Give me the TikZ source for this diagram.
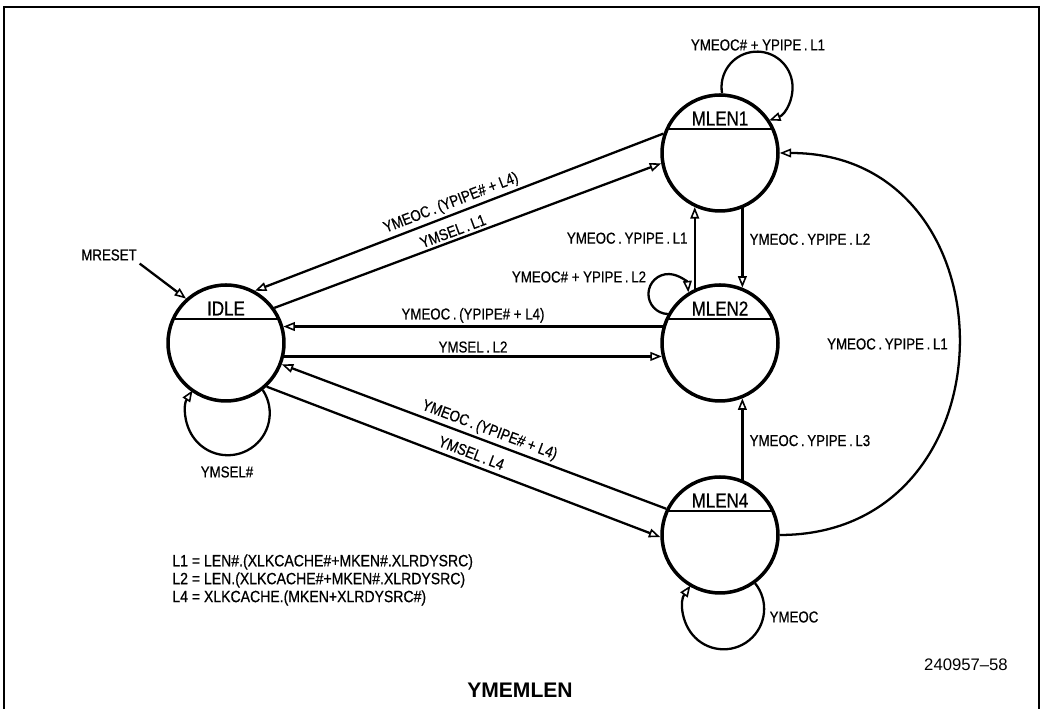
\documentclass[tikz,border=0pt]{standalone}
\usepackage{fontspec}
\setmainfont{Liberation Sans}
\newfontfamily\narrowfont[FakeStretch=0.84, FakeBold=0.6]{Liberation Sans}
\newfontfamily\legendfont[FakeStretch=0.86, FakeBold=0.6]{Liberation Sans}
\usetikzlibrary{arrows.meta, calc}
\tikzset{
    statenode/.style={circle, draw, line width=2pt, minimum size=2.32cm, inner sep=0pt,
        path picture={\draw[line width=1pt] ([yshift=0.48cm]path picture bounding box.west) -- ([yshift=0.48cm]path picture bounding box.east);},
        label={[statename]center:#1}},
    statename/.style={font=\narrowfont\fontsize{11.5}{13}\selectfont, yshift=0.69cm, inner sep=0pt},
    trans/.style={-{Triangle[open, length=6.5pt, width=5pt, line width=0.9pt]}, line width=1.3pt},
    lbl/.style={font=\narrowfont\fontsize{9}{10.2}\selectfont, inner sep=1.5pt},
    legendtext/.style={font=\legendfont\fontsize{9.3}{10.2}\selectfont, inner sep=0pt, align=left},
}
\begin{document}
\begin{tikzpicture}[x=0.02cm, y=0.02cm]
    \useasboundingbox (0,0) rectangle (1042,709);
    % frame
    \draw[line width=1.1pt] (4,0) -- (4,702) -- (1039,702) -- (1039,0);

    % states
    \node[statenode=IDLE] (idle) at (226,366) {};
    \node[statenode=MLEN1] (mlen1) at (720,556) {};
    \node[statenode=MLEN2] (mlen2) at (720,366) {};
    \node[statenode=MLEN4] (mlen4) at (720,174) {};

    % reset
    \node[lbl] (mreset) at (109,454) {MRESET};
    \draw[trans] (mreset.south east) -- (idle.132);

    % IDLE <-> MLEN1
    \draw[trans] (mlen1.161) -- node[lbl, sloped, above, pos=0.51] {YMEOC\,.\,(YPIPE\# + L4)} (idle.61);
    \draw[trans] (idle.36) -- node[lbl, sloped, above, pos=0.47] {YMSEL\,.\,L1} (mlen1.190);

    % IDLE <-> MLEN2
    \draw[trans] (mlen2.164) -- node[lbl, above] {YMEOC\,.\,(YPIPE\# + L4)} (idle.16);
    \draw[trans] (idle.-13) -- node[lbl, above] {YMSEL\,.\,L2} (mlen2.193);

    % IDLE <-> MLEN4
    \draw[trans] (mlen4.154) -- node[lbl, sloped, above, pos=0.47] {YMEOC\,.\,(YPIPE\# + L4)} (idle.-21);
    \draw[trans] (idle.-47) -- node[lbl, sloped, above=1pt, pos=0.51] {YMSEL\,.\,L4} (mlen4.182);

    % MLEN1 <-> MLEN2, MLEN4 -> MLEN2
    \draw[trans] (mlen2.115) -- node[lbl, left=2pt, pos=0.62] {YMEOC\,.\,YPIPE\,.\,L1} (mlen1.-115);
    \draw[trans] (mlen1.-68) -- node[lbl, right=2pt, pos=0.39] {YMEOC\,.\,YPIPE\,.\,L2} (mlen2.68);
    \draw[trans] (mlen4.68) -- node[lbl, right=2pt, pos=0.48] {YMEOC\,.\,YPIPE\,.\,L3} (mlen2.-68);

    % MLEN4 -> MLEN1 (big arc)
    \draw[trans] (mlen4.0) to[out=0, in=0, looseness=1.6] node[lbl, left=4pt, midway] {YMEOC\,.\,YPIPE\,.\,L1} (mlen1.0);

    % self loops
    \draw[trans] (idle.-52) arc[start angle=33.5, end angle=-213, radius=0.84cm];
    \node[lbl] (idleloop) at (227,237) {YMSEL\#};
    \draw[trans] (mlen1.88) arc[start angle=190, end angle=-70, radius=0.71cm];
    \node[lbl] (mlenoneloop) at (758,664) {YMEOC\# + YPIPE\,.\,L1};
    \draw[trans] (mlen2.151) arc[start angle=-92, end angle=-355, radius=0.4cm];
    \node[lbl] (mlentwoloop) at (579,432) {YMEOC\# + YPIPE\,.\,L2};
    \draw[trans] (mlen4.-54) arc[start angle=39, end angle=-215, radius=0.81cm];
    \node[lbl] (mlenfourloop) at (794,92) {YMEOC};

    % definitions
    \node[legendtext, anchor=west] (legend) at (172,129) {L1 = LEN\#.(XLKCACHE\#+MKEN\#.XLRDYSRC)\\L2 = LEN.(XLKCACHE\#+MKEN\#.XLRDYSRC)\\L4 = XLKCACHE.(MKEN+XLRDYSRC\#)};

    % caption
    \node[font=\fontsize{9.5}{11}\selectfont] (fignum) at (966,44) {240957--58};
    \node[font=\bfseries\fontsize{12}{14}\selectfont] (title) at (520,19) {YMEMLEN};
\end{tikzpicture}
\end{document}
